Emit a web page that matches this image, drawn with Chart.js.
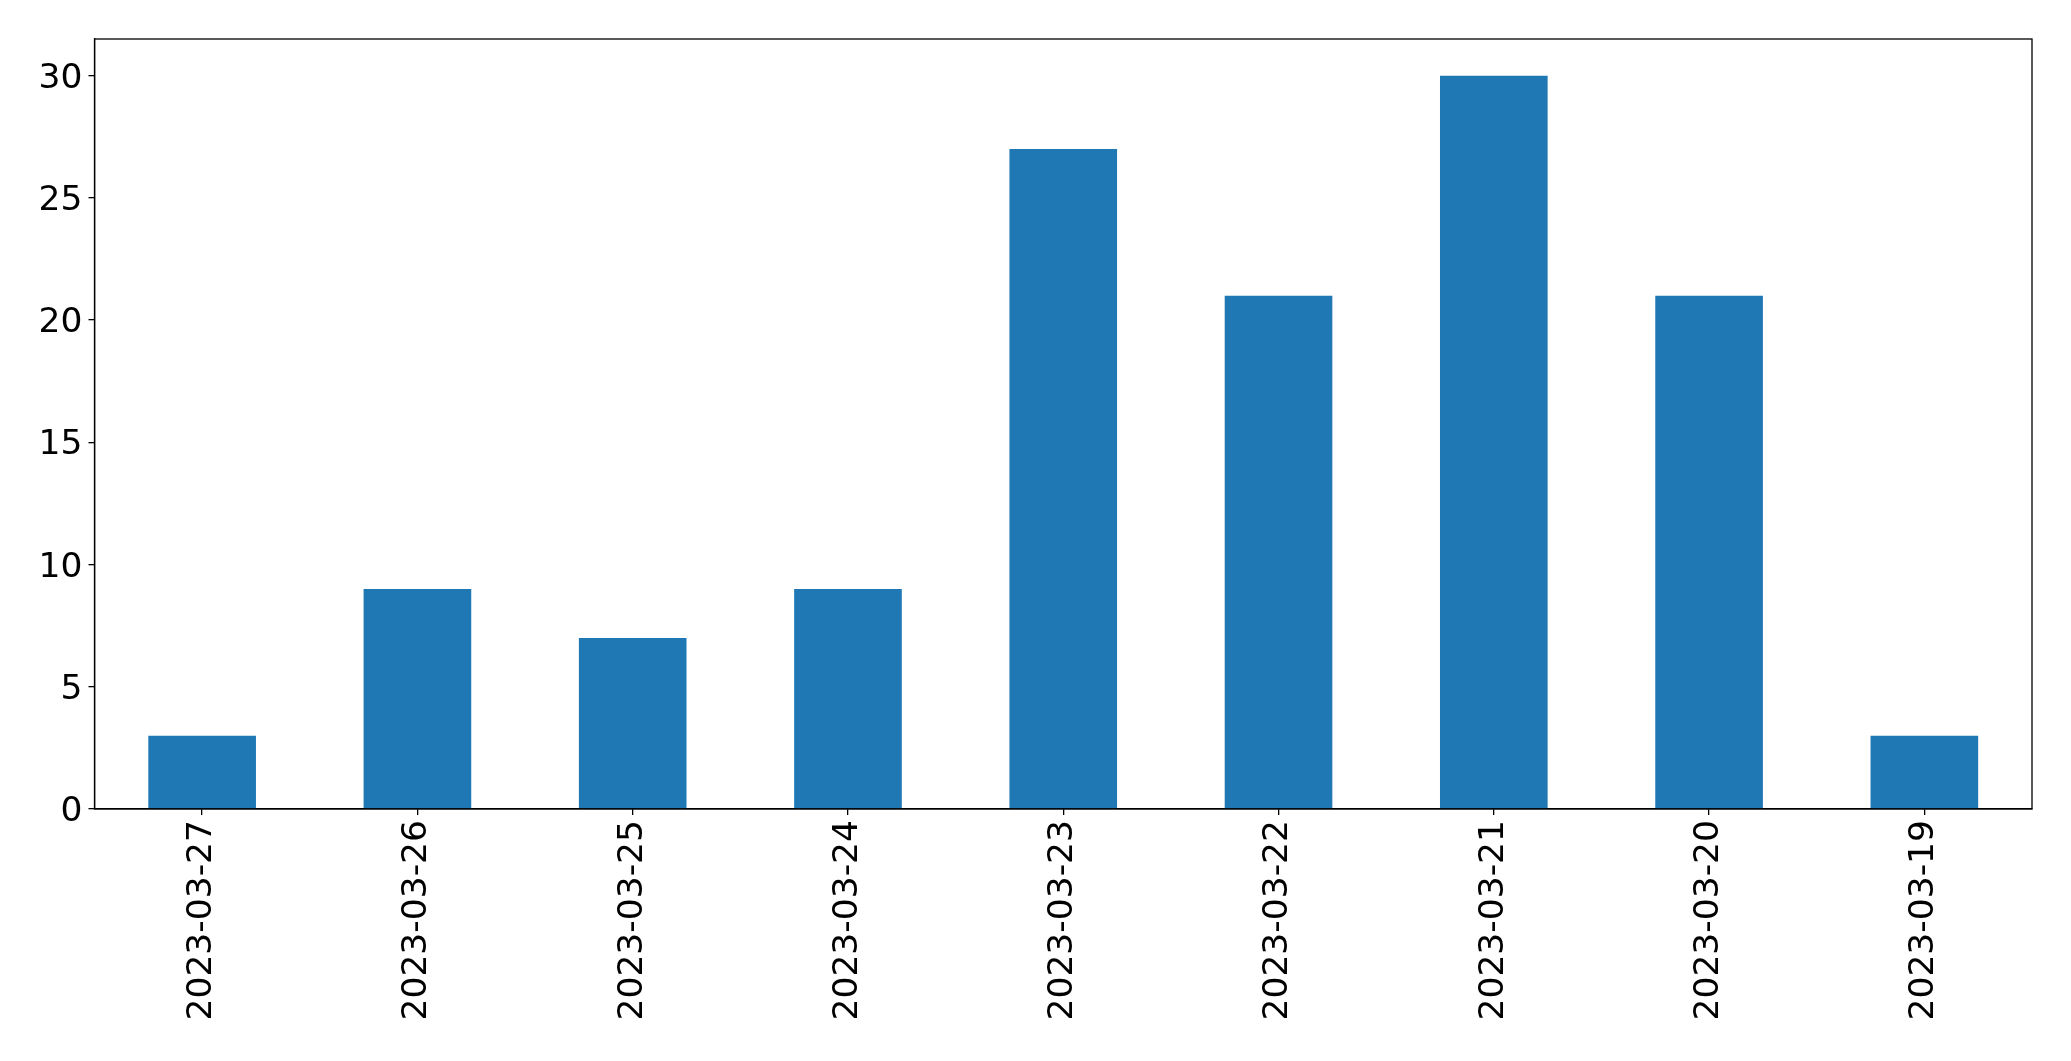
<!DOCTYPE html>
<html>
<head>
<meta charset="utf-8">
<script src="https://cdn.jsdelivr.net/npm/chart.js@4.4.0/dist/chart.umd.min.js"></script>
<style>
  html, body { margin: 0; padding: 0; background: #fff; }
  #wrap { width: 2071px; height: 1061px; }
</style>
</head>
<body>
<div id="wrap"><canvas id="barChart" width="2071" height="1061"></canvas></div>
<script>
var dates = ["2023-03-27", "2023-03-26", "2023-03-25", "2023-03-24", "2023-03-23",
             "2023-03-22", "2023-03-21", "2023-03-20", "2023-03-19"];
var counts = [3, 9, 7, 9, 27, 21, 30, 21, 3];
var yTicks = [0, 5, 10, 15, 20, 25, 30];

// draws the top and right spines, matplotlib style
var frameBox = {
  id: 'frameBox',
  afterDraw: function(chart) {
    var a = chart.chartArea;
    var ctx = chart.ctx;
    ctx.save();
    ctx.strokeStyle = '#000';
    ctx.lineWidth = 1.3;
    ctx.strokeRect(a.left, a.top, a.right - a.left, a.bottom - a.top);
    ctx.restore();
  }
};

var font = { family: 'DejaVu Sans', size: 34.5 };

var ctx = document.getElementById("barChart");
new Chart(ctx, {
  type: 'bar',
  data: {
    labels: dates,
    datasets: [{
      data: counts,
      backgroundColor: '#1f77b4',
      barPercentage: 0.5,
      categoryPercentage: 1.0
    }]
  },
  options: {
    responsive: false,
    animation: false,
    devicePixelRatio: 1,
    layout: { padding: { top: 39, right: 39, left: 0, bottom: 0 } },
    plugins: { legend: { display: false }, tooltip: { enabled: false } },
    scales: {
      x: {
        grid: { display: true, offset: false, drawOnChartArea: false, tickLength: 6, color: '#000', lineWidth: 1.3 },
        border: { display: true, color: '#000', width: 1.3 },
        ticks: { font: font, color: '#000', minRotation: 90, maxRotation: 90, padding: 5, autoSkip: false },
        afterFit: function(scale) { scale.height = 252; }
      },
      y: {
        min: 0,
        max: 31.5,
        grid: { display: true, drawOnChartArea: false, tickLength: 6, color: '#000', lineWidth: 1.3 },
        border: { display: true, color: '#000', width: 1.3 },
        ticks: { font: font, color: '#000', padding: 6, labelOffset: 3 },
        afterBuildTicks: function(scale) {
          scale.ticks = yTicks.map(function(v) { return { value: v }; });
        },
        afterFit: function(scale) { scale.width = 94.5; }
      }
    }
  },
  plugins: [frameBox]
});
</script>
</body>
</html>
